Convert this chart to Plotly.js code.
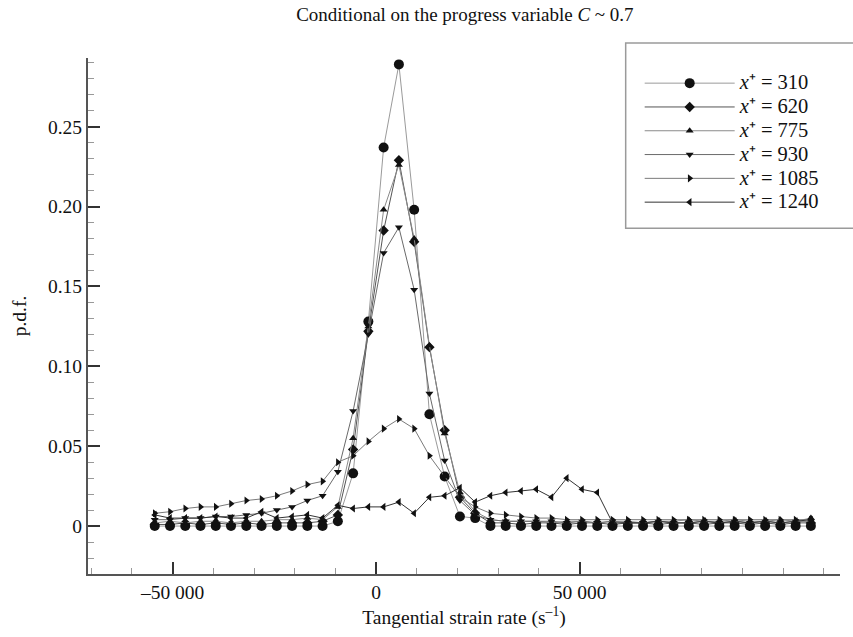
<!DOCTYPE html>
<html>
<head>
<meta charset="utf-8">
<script src="https://cdn.plot.ly/plotly-3.0.1.min.js"></script>
<style>
  html, body { margin: 0; padding: 0; background: #fff; }
  #chart { width: 853px; height: 637px; }
</style>
</head>
<body>
<div id="chart"></div>
<script>
// Tangential strain rate (s^-1), bin centres
const strainRate = [-54400, -50650, -46900, -43150, -39400, -35650, -31900, -28150, -24400, -20650,
  -16900, -13150, -9400, -5650, -1900, 1850, 5600, 9350, 13100, 16850,
  20600, 24350, 28100, 31850, 35600, 39350, 43100, 46850, 50600, 54350,
  58100, 61850, 65600, 69350, 73100, 76850, 80600, 84350, 88100, 91850,
  95600, 99350, 103100, 106850];

const seriesNames = ['310', '620', '775', '930', '1085', '1240'];

const pdf310 = [0, 0, 0, 0, 0, 0, 0, 0, 0, 0,
  0, 0, 0.003, 0.033, 0.128, 0.237, 0.289, 0.198, 0.070, 0.031,
  0.006, 0.005, 0, 0, 0, 0, 0, 0, 0, 0,
  0, 0, 0, 0, 0, 0, 0, 0, 0, 0,
  0, 0, 0, 0];

const pdf620 = [0.001, 0.001, 0.002, 0.001, 0.002, 0.001, 0.002, 0.001, 0.002, 0.002,
  0.002, 0.003, 0.007, 0.048, 0.122, 0.185, 0.229, 0.178, 0.112, 0.060,
  0.018, 0.008, 0.002, 0.002, 0.001, 0.002, 0.002, 0.001, 0.002, 0.002,
  0.001, 0.002, 0.002, 0.001, 0.002, 0.002, 0.001, 0.002, 0.002, 0.001,
  0.002, 0.001, 0.002, 0.002];

const pdf775 = [0.002, 0.003, 0.002, 0.003, 0.003, 0.002, 0.003, 0.003, 0.004, 0.004,
  0.005, 0.004, 0.012, 0.055, 0.125, 0.198, 0.226, 0.180, 0.113, 0.058,
  0.021, 0.009, 0.004, 0.003, 0.003, 0.003, 0.002, 0.003, 0.003, 0.002,
  0.003, 0.003, 0.002, 0.003, 0.003, 0.004, 0.003, 0.003, 0.004, 0.003,
  0.003, 0.004, 0.003, 0.005];

const pdf930 = [0.004, 0.004, 0.005, 0.005, 0.006, 0.006, 0.007, 0.008, 0.010, 0.012,
  0.016, 0.019, 0.034, 0.072, 0.120, 0.171, 0.187, 0.148, 0.083, 0.041,
  0.016, 0.007, 0.004, 0.003, 0.003, 0.003, 0.003, 0.002, 0.003, 0.002,
  0.003, 0.002, 0.002, 0.003, 0.002, 0.002, 0.003, 0.002, 0.003, 0.002,
  0.003, 0.002, 0.003, 0.003];

const pdf1085 = [0.008, 0.009, 0.011, 0.012, 0.012, 0.014, 0.016, 0.017, 0.019, 0.022,
  0.026, 0.028, 0.040, 0.044, 0.053, 0.061, 0.067, 0.061, 0.044, 0.031,
  0.018, 0.012, 0.008, 0.007, 0.006, 0.005, 0.005, 0.004, 0.004, 0.004,
  0.004, 0.004, 0.004, 0.004, 0.004, 0.004, 0.004, 0.004, 0.004, 0.004,
  0.004, 0.004, 0.004, 0.004];

const pdf1240 = [0.007, 0.005, 0.005, 0.005, 0.006, 0.005, 0.005, 0.009, 0.005, 0.006,
  0.007, 0.005, 0.013, 0.011, 0.012, 0.012, 0.015, 0.008, 0.018, 0.019,
  0.024, 0.015, 0.019, 0.021, 0.022, 0.023, 0.018, 0.030, 0.023, 0.021,
  0.002, 0.002, 0.002, 0.003, 0.002, 0.002, 0.003, 0.002, 0.003, 0.002,
  0.003, 0.002, 0.003, 0.004];

const yTickVals = [0, 0.05, 0.10, 0.15, 0.20, 0.25];
const yTickText = ['0', '0.05', '0.10', '0.15', '0.20', '0.25'];
const xTickVals = [-50000, 0, 50000];
const xTickText = ['\u201350 000', '0', '50 000'];

const allSeries = [pdf310, pdf620, pdf775, pdf930, pdf1085, pdf1240];
const symbols = ['circle', 'diamond', 'triangle-up', 'triangle-down', 'triangle-right', 'triangle-left'];
const markerSizes = [10, 8, 7, 7, 7, 7];
const lineColors = ['#9a9a9a', '#555555', '#8a8a8a', '#6a6a6a', '#7a7a7a', '#333333'];

const traces = allSeries.map((ys, k) => ({
  type: 'scatter',
  mode: 'lines+markers',
  x: strainRate,
  y: ys,
  name: '<span style="font-size:20.5px"><i>x</i>\u207A = ' + seriesNames[k] + '</span>',
  line: { color: lineColors[k], width: 1 },
  marker: { symbol: symbols[k], size: markerSizes[k], color: '#111111', line: { width: 0 } }
}));

const serif = 'Liberation Serif, Times New Roman, serif';
const fs = 19.5;

const layout = {
  width: 853,
  height: 637,
  margin: { l: 88, r: 13, t: 58, b: 63 },
  paper_bgcolor: '#ffffff',
  plot_bgcolor: '#ffffff',
  font: { family: serif, size: fs, color: '#111111' },
  title: {
    text: 'Conditional on the progress variable <i>C</i> ~ 0.7',
    font: { family: serif, size: 19, color: '#111111' },
    x: 0.545, xanchor: 'center', y: 0.988, yanchor: 'top'
  },
  showlegend: true,
  legend: {
    x: 0.715, xanchor: 'left', y: 0.984, yanchor: 'top',
    borderwidth: 0, bgcolor: 'rgba(0,0,0,0)',
    font: { family: serif, size: 16, color: '#111111' },
    itemwidth: 90, indentation: 14
  },
  shapes: [{
    type: 'rect', xref: 'paper', yref: 'paper',
    x0: 0.715, x1: 1.02, y0: 0.67, y1: 1.029,
    line: { color: '#9a9a9a', width: 1.5 }, fillcolor: 'rgba(0,0,0,0)', layer: 'below'
  }],
  xaxis: {
    range: [-70800, 114000],
    showgrid: false, zeroline: false,
    showline: true, linecolor: '#555555', linewidth: 2,
    tickmode: 'array', tickvals: xTickVals, ticktext: xTickText,
    ticks: 'inside', ticklen: 12, tickwidth: 2, tickcolor: '#333333',
    minor: { dtick: 10000, tick0: 0, ticks: 'inside', ticklen: 6, tickwidth: 1, tickcolor: '#999999' },
    tickfont: { family: serif, size: fs, color: '#111111' },
    title: { text: 'Tangential strain rate (s<sup>\u20131</sup>)', font: { family: serif, size: fs }, standoff: 8 },
    mirror: false
  },
  yaxis: {
    range: [-0.03, 0.293],
    showgrid: false, zeroline: false,
    showline: true, linecolor: '#555555', linewidth: 2,
    tickmode: 'array', tickvals: yTickVals, ticktext: yTickText,
    ticks: 'inside', ticklen: 12, tickwidth: 2, tickcolor: '#333333',
    minor: { dtick: 0.01, tick0: 0, ticks: 'inside', ticklen: 6, tickwidth: 1, tickcolor: '#999999' },
    tickfont: { family: serif, size: fs, color: '#111111' },
    title: { text: 'p.d.f.', font: { family: serif, size: fs }, standoff: 16 },
    mirror: false
  }
};

Plotly.newPlot('chart', traces, layout, { staticPlot: true, displayModeBar: false });
</script>
</body>
</html>
